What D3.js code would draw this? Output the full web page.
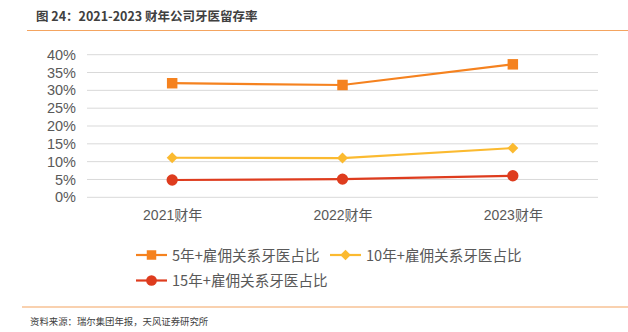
<!DOCTYPE html>
<html><head><meta charset="utf-8">
<script src="https://cdn.jsdelivr.net/npm/d3@7"></script>
<style>body{margin:0;background:#fff}svg{display:block}</style>
</head><body>
<svg id="c" width="628" height="332"></svg>
<script>
const categories = ["2021财年", "2022财年", "2023财年"];
const seriesNames = ["5年+雇佣关系牙医占比", "10年+雇佣关系牙医占比", "15年+雇佣关系牙医占比"];
const s5 = [0.32, 0.315, 0.373];
const s10 = [0.111, 0.110, 0.138];
const s15 = [0.0485, 0.051, 0.0605];
const yTicks = [0, 0.05, 0.10, 0.15, 0.20, 0.25, 0.30, 0.35, 0.40];
const colors = ["#F5821F", "#FBBA30", "#DE3C1E"];
const shapes = [d3.symbolSquare, d3.symbolSquare, d3.symbolCircle];
const rot = [0, 45, 0];
const series = [s5, s10, s15];

const svg = d3.select("#c");
const cjk = "'Noto Sans CJK SC', 'Liberation Sans', sans-serif";
const lat = "'Liberation Sans', Arial, 'Noto Sans CJK SC', sans-serif";

// title
svg.append("text").attr("x", 36).attr("y", 21).attr("font-family", cjk)
  .attr("font-size", 12.5).attr("font-weight", "bold").attr("fill", "#404040")
  .text("图 24：2021-2023 财年公司牙医留存率");
svg.append("line").attr("x1", 27).attr("x2", 628).attr("y1", 30.5).attr("y2", 30.5)
  .attr("stroke", "#F4A460").attr("stroke-width", 1.2);

const x = d3.scalePoint().domain(categories).range([87, 598]).padding(0.5);
const y = d3.scaleLinear().domain([0, 0.40]).range([197.3, 54.7]);

// grid
svg.append("g").selectAll("line").data(yTicks).join("line")
  .attr("x1", 87).attr("x2", 598).attr("y1", d => y(d)).attr("y2", d => y(d))
  .attr("stroke", "#D9D9D9").attr("stroke-width", 1);

const yAxis = svg.append("g").attr("transform", "translate(87,0)")
  .call(d3.axisLeft(y).tickValues(yTicks).tickFormat(d3.format(".0%")).tickSize(0).tickPadding(11));
yAxis.select(".domain").remove();
yAxis.selectAll("text").attr("font-family", lat).attr("font-size", 14.5).attr("fill", "#595959");

const xAxis = svg.append("g").attr("transform", "translate(0,204)")
  .call(d3.axisBottom(x).tickSize(0).tickPadding(6));
xAxis.select(".domain").remove();
xAxis.selectAll("text").attr("font-family", lat).attr("font-size", 14).attr("fill", "#595959");

const line = d3.line().x((d, i) => x(categories[i])).y(d => y(d));
const sizes = [110, 60, 100];
series.forEach((s, k) => {
  svg.append("path").datum(s).attr("d", line).attr("fill", "none")
    .attr("stroke", colors[k]).attr("stroke-width", 2.2);
  svg.append("g").selectAll("path").data(s).join("path")
    .attr("transform", (d, i) => `translate(${x(categories[i])},${y(d)}) rotate(${rot[k]})`)
    .attr("d", d3.symbol().type(shapes[k]).size(sizes[k]))
    .attr("fill", colors[k]);
});

// legend
const legendPos = [[136, 255], [330, 255], [136, 280.5]];
const lsizes = [90, 55, 90];
seriesNames.forEach((n, k) => {
  const [lx, ly] = legendPos[k];
  const g = svg.append("g").attr("transform", `translate(${lx},${ly})`);
  g.append("line").attr("x1", 0).attr("x2", 31).attr("stroke", colors[k]).attr("stroke-width", 2.2);
  g.append("path").attr("transform", `translate(15.5,0) rotate(${rot[k]})`)
    .attr("d", d3.symbol().type(shapes[k]).size(lsizes[k])).attr("fill", colors[k]);
  g.append("text").attr("x", 36).attr("y", 5.5).attr("font-family", cjk)
    .attr("font-size", 14.6).attr("fill", "#595959").text(n);
});

// source
svg.append("line").attr("x1", 22).attr("x2", 628).attr("y1", 307).attr("y2", 307)
  .attr("stroke", "#F4A460").attr("stroke-width", 1.2);
svg.append("text").attr("x", 30).attr("y", 325).attr("font-family", cjk)
  .attr("font-size", 9.4).attr("fill", "#404040")
  .text("资料来源：瑞尔集团年报，天风证券研究所");
</script>
</body></html>
